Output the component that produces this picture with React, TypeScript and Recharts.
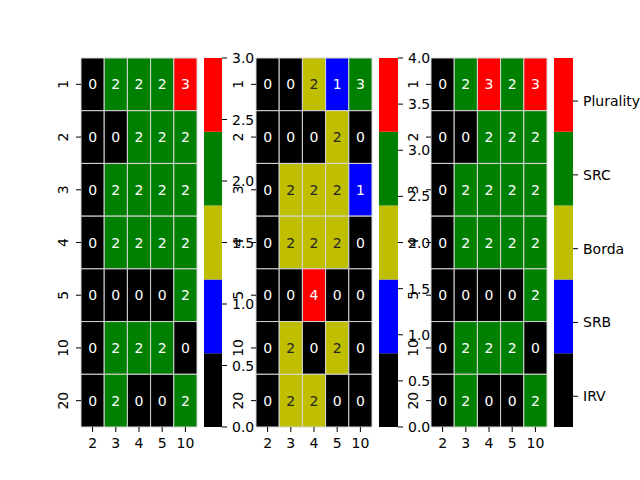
import React from 'react';
import { ComposedChart, XAxis, YAxis, ReferenceArea, Scatter } from 'recharts';

const rowLabels = ['1', '2', '3', '4', '5', '10', '20'];
const colLabels = ['2', '3', '4', '5', '10'];

const panel1 = [
  [0, 2, 2, 2, 3],
  [0, 0, 2, 2, 2],
  [0, 2, 2, 2, 2],
  [0, 2, 2, 2, 2],
  [0, 0, 0, 0, 2],
  [0, 2, 2, 2, 0],
  [0, 2, 0, 0, 2],
];
const panel2 = [
  [0, 0, 2, 1, 3],
  [0, 0, 0, 2, 0],
  [0, 2, 2, 2, 1],
  [0, 2, 2, 2, 0],
  [0, 0, 4, 0, 0],
  [0, 2, 0, 2, 0],
  [0, 2, 2, 0, 0],
];
const panel3 = [
  [0, 2, 3, 2, 3],
  [0, 0, 2, 2, 2],
  [0, 2, 2, 2, 2],
  [0, 2, 2, 2, 2],
  [0, 0, 0, 0, 2],
  [0, 2, 2, 2, 0],
  [0, 2, 0, 0, 2],
];

const palette = ['#000000', '#0000ff', '#bfbf00', '#008000', '#ff0000'];
const vmaxes = [3, 4, 3];

const cb1Ticks = [0, 0.5, 1, 1.5, 2, 2.5, 3];
const cb2Ticks = [0, 0.5, 1, 1.5, 2, 2.5, 3, 3.5, 4];
const cb3Ticks = [0.25, 0.85, 1.45, 2.05, 2.65];
const cb3Labels = ['IRV', 'SRB', 'Borda', 'SRC', 'Plurality'];

const FONT = 'DejaVu Sans';
const W = 640;
const H = 480;
const TOP = 58;
const BOTTOM = 427;
const XH = 30;
const YW = 30;
const CBW = 80;

const layout = [
  { l: 81, r: 197, cl: 204, cr: 222 },
  { l: 256, r: 372, cl: 379, cr: 398 },
  { l: 431, r: 547, cl: 554, cr: 573 },
];

const colorFor = (v: number, vmax: number) => {
  const idx = Math.min(palette.length - 1, Math.floor((v / vmax) * palette.length));
  return palette[idx];
};
const textColorFor = (c: string) => (c === '#bfbf00' ? '#262626' : '#ffffff');

const XTick = (props: any) => {
  const { x, y, payload } = props;
  const label = colLabels[Math.round(payload.value - 0.5)];
  return (
    <text x={x} y={y} dy={11} textAnchor="middle" fontFamily={FONT} fontSize={14} fill="#000">
      {label}
    </text>
  );
};

const YTick = (props: any) => {
  const { x, y, payload } = props;
  const label = rowLabels[Math.round(payload.value - 0.5)];
  return (
    <text
      x={x}
      y={y}
      dy={-3}
      transform={`rotate(-90 ${x} ${y})`}
      textAnchor="middle"
      fontFamily={FONT}
      fontSize={14}
      fill="#000"
    >
      {label}
    </text>
  );
};

const makeCbTick = (fmt: (v: number, i: number) => string) => (props: any) => {
  const { x, y, payload, index } = props;
  return (
    <text x={x} y={y} dy={5} textAnchor="start" fontFamily={FONT} fontSize={14} fill="#000">
      {fmt(payload.value, index)}
    </text>
  );
};

const Heatmap = ({ data, vmax, pos }: { data: number[][]; vmax: number; pos: any }) => {
  const cells: any[] = [];
  data.forEach((row, ri) =>
    row.forEach((v, ci) => {
      cells.push({ x: ci + 0.5, y: ri + 0.5, v, ci, ri });
    })
  );
  return (
    <div style={{ position: 'absolute', left: 0, top: 0 }}>
      <ComposedChart
        width={W}
        height={H}
        data={cells}
        margin={{ top: TOP, bottom: H - BOTTOM - XH, left: pos.l - YW, right: W - pos.r }}
      >
        <XAxis
          type="number"
          dataKey="x"
          domain={[0, 5]}
          allowDataOverflow
          ticks={[0.5, 1.5, 2.5, 3.5, 4.5]}
          height={XH}
          axisLine={false}
          tickSize={5}
          tickMargin={5}
          tickLine={{ stroke: '#000' }}
          tick={<XTick />}
          interval={0}
        />
        <YAxis
          type="number"
          dataKey="y"
          domain={[0, 7]}
          reversed
          allowDataOverflow
          ticks={[0.5, 1.5, 2.5, 3.5, 4.5, 5.5, 6.5]}
          width={YW}
          axisLine={false}
          tickSize={5}
          tickMargin={5}
          tickLine={{ stroke: '#000' }}
          tick={<YTick />}
          interval={0}
        />
        {cells.map((c) => {
          const fill = colorFor(c.v, vmax);
          return (
            <ReferenceArea
              key={`${c.ri}-${c.ci}`}
              x1={c.ci}
              x2={c.ci + 1}
              y1={c.ri}
              y2={c.ri + 1}
              fill={fill}
              fillOpacity={1}
              stroke="#d6d6d6"
              strokeWidth={1}
              ifOverflow="visible"
              label={(lp: any) => {
                const vb = lp.viewBox;
                return (
                  <text
                    x={vb.x + vb.width / 2}
                    y={vb.y + vb.height / 2}
                    dy={5}
                    textAnchor="middle"
                    fontFamily={FONT}
                    fontSize={14}
                    fill={textColorFor(fill)}
                  >
                    {c.v}
                  </text>
                );
              }}
            />
          );
        })}
        <Scatter dataKey="y" isAnimationActive={false} shape={() => null} />
      </ComposedChart>
    </div>
  );
};

const Colorbar = ({ vmax, pos, ticks, fmt }: { vmax: number; pos: any; ticks: number[]; fmt: (v: number, i: number) => string }) => {
  const segs = palette.map((c, i) => ({ y1: (vmax * i) / palette.length, y2: (vmax * (i + 1)) / palette.length, c }));
  const TickComp = makeCbTick(fmt);
  return (
    <div style={{ position: 'absolute', left: 0, top: 0 }}>
      <ComposedChart
        width={W}
        height={H}
        data={segs}
        margin={{ top: TOP, bottom: H - BOTTOM, left: pos.cl, right: W - pos.cr - CBW }}
      >
        <XAxis type="number" dataKey="y1" domain={[0, 1]} allowDataOverflow hide />
        <YAxis
          type="number"
          orientation="right"
          domain={[0, vmax]}
          allowDataOverflow
          ticks={ticks}
          width={CBW}
          axisLine={false}
          tickSize={5}
          tickMargin={5}
          tickLine={{ stroke: '#000' }}
          tick={<TickComp />}
          interval={0}
        />
        {segs.map((s, i) => (
          <ReferenceArea
            key={i}
            x1={0}
            x2={1}
            y1={s.y1}
            y2={s.y2}
            fill={s.c}
            fillOpacity={1}
            stroke="none"
            ifOverflow="visible"
          />
        ))}
      </ComposedChart>
    </div>
  );
};

export default function App() {
  const numFmt = (v: number) => v.toFixed(1);
  const nameFmt = (_v: number, i: number) => cb3Labels[i];
  return (
    <div style={{ position: 'absolute', left: 0, top: 0, width: W, height: H, background: '#fff' }}>
      <Heatmap data={panel1} vmax={vmaxes[0]} pos={layout[0]} />
      <Colorbar vmax={vmaxes[0]} pos={layout[0]} ticks={cb1Ticks} fmt={numFmt} />
      <Heatmap data={panel2} vmax={vmaxes[1]} pos={layout[1]} />
      <Colorbar vmax={vmaxes[1]} pos={layout[1]} ticks={cb2Ticks} fmt={numFmt} />
      <Heatmap data={panel3} vmax={vmaxes[2]} pos={layout[2]} />
      <Colorbar vmax={vmaxes[2]} pos={layout[2]} ticks={cb3Ticks} fmt={nameFmt} />
    </div>
  );
}
